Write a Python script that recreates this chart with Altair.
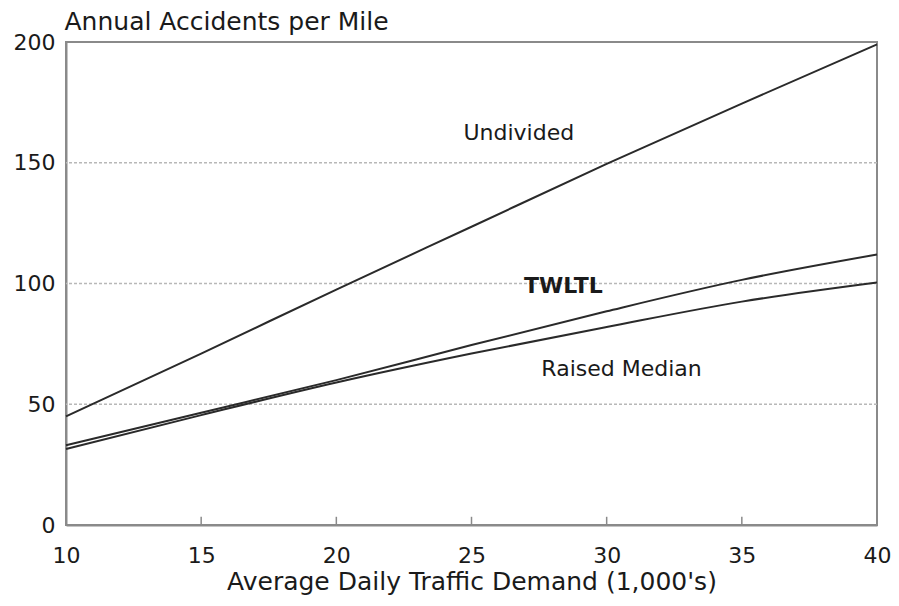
import altair as alt
import pandas as pd

x_vals = [10, 15, 20, 25, 30, 35, 40]
undivided = [45, 71, 97.5, 123.5, 149.5, 174.5, 199]
twltl = [33, 46.5, 60, 74.5, 88.5, 101.5, 112]
raised = [31.5, 45.5, 59, 71, 82, 92.5, 100.4]
series_names = ["Undivided", "TWLTL", "Raised Median"]

label_x = [26.75, 28.4, 30.55]
label_y = [162.3, 99, 64.6]
label_bold = [False, True, False]

x_ticks = [10, 15, 20, 25, 30, 35, 40]
inner_ticks = [15, 20, 25, 30, 35]
y_ticks = [0, 50, 100, 150, 200]
grid_vals = [50, 100, 150]

rows = []
for name, vals in zip(series_names, [undivided, twltl, raised]):
    for x, y in zip(x_vals, vals):
        rows.append({"x": x, "y": y, "series": name})
df = pd.DataFrame(rows)

labels_df = pd.DataFrame({"x": label_x, "y": label_y, "text": series_names, "bold": label_bold})
grid_df = pd.DataFrame({"y": grid_vals})
tick_df = pd.DataFrame({"x": inner_ticks, "y0": [0] * len(inner_ticks), "y1": [3.4] * len(inner_ticks)})

FONT = "DejaVu Sans"
TXT = "#1a1a1a"
AX = "#8a8a8a"

xscale = alt.Scale(domain=[10, 40], nice=False, zero=False)
yscale = alt.Scale(domain=[0, 200], nice=False)

xaxis = alt.Axis(values=x_ticks, grid=False, ticks=False, domain=True, domainColor=AX,
                 domainWidth=2, labelFont=FONT, labelFontSize=22, labelColor=TXT,
                 labelPadding=20, labelBaseline="top", labelFlush=False, format="d",
                 title="Average Daily Traffic Demand (1,000's)", titleFont=FONT,
                 titleFontSize=25, titleFontWeight="normal", titleColor=TXT,
                 titleBaseline="alphabetic", titleY=64, titleAnchor="middle")
yaxis = alt.Axis(values=y_ticks, grid=False, ticks=False, domain=True, domainColor=AX,
                 domainWidth=2, labelFont=FONT, labelFontSize=22, labelColor=TXT,
                 labelPadding=11, labelFlush=False, format="d",
                 title="Annual Accidents per Mile", titleFont=FONT, titleFontSize=25,
                 titleFontWeight="normal", titleColor=TXT, titleAngle=0,
                 titleAlign="left", titleBaseline="alphabetic", titleX=-2, titleY=-13)

grid = alt.Chart(grid_df).mark_rule(color="#b8b8b8", strokeDash=[3, 2], strokeWidth=1.5).encode(
    y=alt.Y("y:Q", scale=yscale, axis=yaxis)
)

ticks = alt.Chart(tick_df).mark_rule(color=AX, strokeWidth=1.5).encode(
    x=alt.X("x:Q", scale=xscale, axis=xaxis),
    y=alt.Y("y0:Q", scale=yscale),
    y2="y1:Q",
)

lines = alt.Chart(df).mark_line(color="#2a2a2a", strokeWidth=2, interpolate="monotone").encode(
    x=alt.X("x:Q", scale=xscale),
    y=alt.Y("y:Q", scale=yscale),
    detail="series:N",
)

texts_normal = alt.Chart(labels_df).transform_filter("!datum.bold").mark_text(
    font=FONT, fontSize=22, color=TXT, align="center", baseline="middle").encode(
    x=alt.X("x:Q", scale=xscale),
    y=alt.Y("y:Q", scale=yscale),
    text="text:N",
)
texts_bold = alt.Chart(labels_df).transform_filter("datum.bold").mark_text(
    font=FONT, fontSize=22, color=TXT, align="center", baseline="middle", fontWeight="bold").encode(
    x=alt.X("x:Q", scale=xscale),
    y=alt.Y("y:Q", scale=yscale),
    text="text:N",
)

chart = alt.layer(grid, ticks, lines, texts_normal, texts_bold).properties(
    width=811,
    height=483,
    autosize=alt.AutoSizeParams(type="none"),
    padding={"left": 58, "top": 34, "right": 14, "bottom": 70},
    background="white",
).configure_view(stroke=AX, strokeWidth=2)

chart.save("out.html", embed_options={"renderer": "svg", "actions": False})
